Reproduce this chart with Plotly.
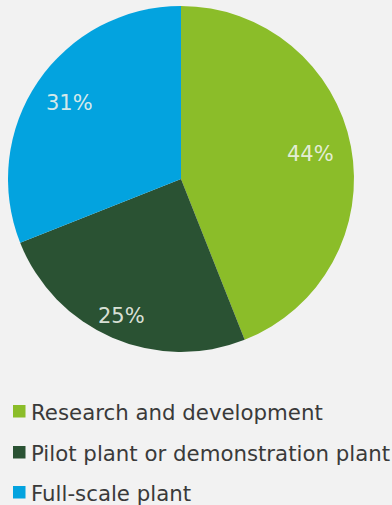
import math
import plotly.graph_objects as go

labels = ["Research and development", "Pilot plant or demonstration plant", "Full-scale plant"]
values = [44, 25, 31]
colors = ["#8BBD29", "#2A5233", "#03A3DF"]

W, H = 392, 505
BG = "#F2F2F2"

# Pie geometry in pixels
CX, CY, R = 181, 179, 173
# how far out (fraction of radius) each percentage label sits
label_radius = [0.76, 0.86, 0.78]

fig = go.Figure(
    go.Pie(
        labels=labels,
        values=values,
        sort=False,
        direction="clockwise",
        rotation=0,
        marker=dict(colors=colors, line=dict(width=0)),
        textinfo="none",
        domain=dict(x=[(CX - R) / W, (CX + R) / W], y=[1 - (CY + R) / H, 1 - (CY - R) / H]),
        hoverinfo="label+percent",
        showlegend=False,
    )
)

annotations = []
shapes = []

# Percentage labels at the middle angle of each slice
total = sum(values)
start = 0.0
for v, rf in zip(values, label_radius):
    mid = (start + v / 2) / total * 2 * math.pi
    start += v
    px = CX + rf * R * math.sin(mid)
    py = CY - rf * R * math.cos(mid)
    annotations.append(dict(text=f"{v}%", xref="paper", yref="paper",
                            x=px / W, y=1 - py / H, xanchor="center", yanchor="middle",
                            showarrow=False,
                            font=dict(family="DejaVu Sans", size=21, color="rgba(240,244,236,0.9)")))

# Legend rows: a colour square followed by the category name
row_y = [411, 452, 492]
for lab, col, y in zip(labels, colors, row_y):
    shapes.append(dict(type="rect", xref="paper", yref="paper",
                       x0=13 / W, x1=25.5 / W,
                       y0=1 - (y + 6.5) / H, y1=1 - (y - 6) / H,
                       fillcolor=col, line=dict(width=0)))
    annotations.append(dict(text=lab, xref="paper", yref="paper",
                            x=29 / W, y=1 - (y + 1) / H, xanchor="left", yanchor="middle",
                            showarrow=False,
                            font=dict(family="DejaVu Sans", size=21.3, color="#3A3A3A")))

fig.update_layout(
    width=W, height=H,
    margin=dict(l=0, r=0, t=0, b=0),
    paper_bgcolor=BG, plot_bgcolor=BG,
    shapes=shapes, annotations=annotations,
)

fig.write_html("out.html")
